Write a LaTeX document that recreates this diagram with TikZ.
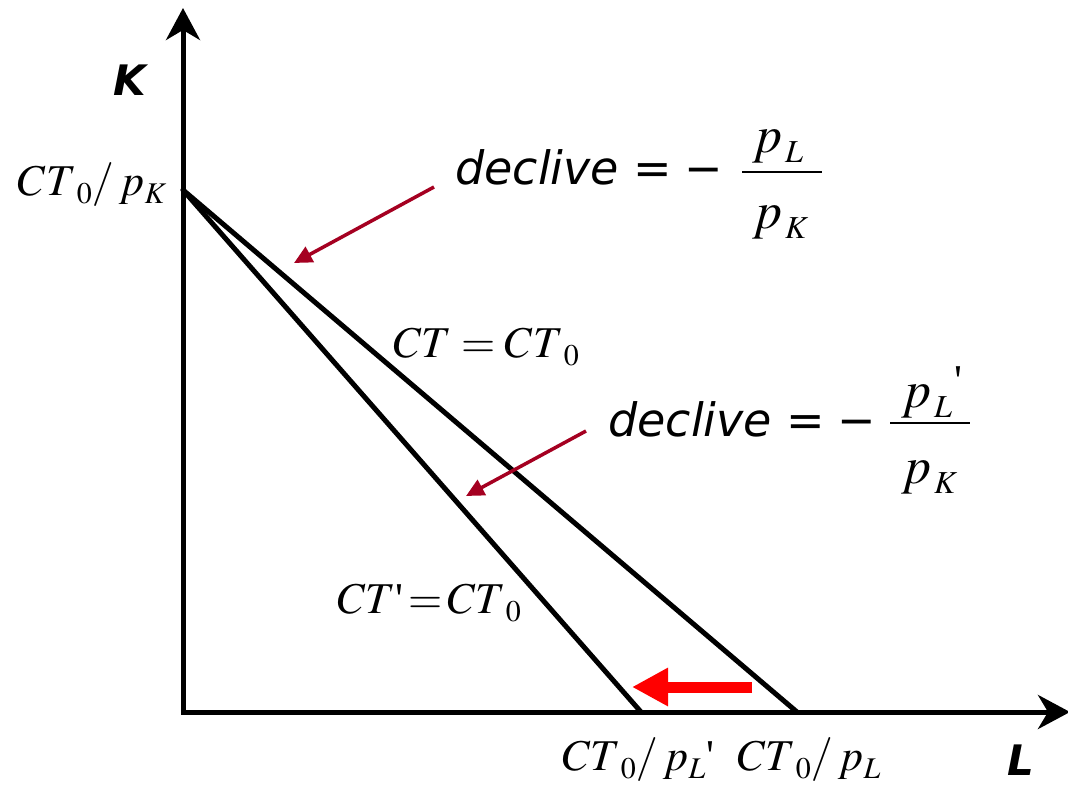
\documentclass[tikz,border=0pt]{standalone}
\usepackage{mathptmx}
\usepackage[no-math]{fontspec}
\setmainfont{Liberation Serif}
\newfontfamily\dv{DejaVu Sans}
\usetikzlibrary{arrows.meta}
\definecolor{ptr}{RGB}{165,0,33}
\newcommand\lsub[1]{\kern0.5pt\raisebox{-8pt}{\fontsize{30}{30}\selectfont$#1$}}
\newcommand\fsub[1]{\kern3pt\raisebox{-10pt}{\fontsize{32}{32}\selectfont$#1$}}
\tikzset{
  axisline/.style={line width=5pt, line join=miter,
    {Stealth[length=32pt,width=34pt,inset=10pt]}-{Stealth[length=32pt,width=34pt,inset=10pt]}},
  budget/.style={line width=5pt, line cap=round},
  pointer/.style={line width=3.5pt, draw=ptr, -{Triangle[length=18pt,width=17pt]}},
  shiftarrow/.style={line width=11pt, draw=red, -{Triangle[length=36pt,width=36pt]}},
  lbl/.style={font=\fontsize{44}{50}\selectfont, inner sep=0pt, anchor=base west},
  frc/.style={font=\fontsize{52}{56}\selectfont, inner sep=0pt, anchor=base west},
  dvl/.style={font=\dv\itshape\fontsize{46}{52}\selectfont, inner sep=0pt, anchor=base west},
  axl/.style={font=\dv\bfseries\itshape\fontsize{42}{48}\selectfont, inner sep=0pt},
  fracbar/.style={line width=2pt}
}
\begin{document}
\begin{tikzpicture}[x=1pt,y=-1pt]
\fill[white] (0,0) rectangle (1068,787);
\useasboundingbox (0,0) rectangle (1068,787);
% coordinates
\coordinate (O) at (183,712);
\coordinate (ytop) at (183,8);
\coordinate (xend) at (1070,712);
\coordinate (A) at (183,190);
\coordinate (B) at (797,712);
\coordinate (Bp) at (641,712);
\coordinate (rs) at (752,687);
\coordinate (re) at (632,687);
\coordinate (p1s) at (434,187);
\coordinate (p1e) at (294,263);
\coordinate (p2s) at (586,431);
\coordinate (p2e) at (466,496);
% axes
\draw[axisline] (ytop) -- (O) -- (xend);
% budget lines
\draw[budget] (A) -- (B);
\draw[budget] (A) -- (Bp);
% shift arrow
\draw[shiftarrow] (rs) -- (re);
% pointers
\draw[pointer] (p1s) -- (p1e);
\draw[pointer] (p2s) -- (p2e);
% axis labels
\node[axl] (K) at (130,80) {K};
\node[axl] (L) at (1021,760) {L};
% intercept labels
\node[lbl] (ik) at (18,195) {$CT\lsub{0}/\,p\lsub{K}$};
\node[lbl] (il1) at (562,770) {$CT\lsub{0}/\,p\lsub{L}$\kern1pt\textquotesingle};
\node[lbl] (il0) at (737,770) {$CT\lsub{0}/\,p\lsub{L}$};
% line labels
\node[lbl] (ct) at (393,357) {$CT=CT\lsub{0}$};
\node[lbl] (ctp) at (337,613) {$CT$\textquotesingle$\,{=}\,CT\lsub{0}$};
% slope 1
\node[dvl] (d1) at (455,184) {declive =\kern12pt−};
\node[frc] (n1) at (752,152) {$p\fsub{L}$};
\node[frc] (m1) at (752,228) {$p\fsub{K}$};
\coordinate (b1l) at (742,172);
\coordinate (b1r) at (822,172);
\draw[fracbar] (b1l) -- (b1r);
% slope 2
\node[dvl] (d2) at (608,436) {declive =\kern12pt−};
\node[frc] (n2) at (901,407) {$p\fsub{L}$\kern3pt\raisebox{12pt}{\fontsize{44}{44}\selectfont\textquotesingle}};
\node[frc] (m2) at (901,483) {$p\fsub{K}$};
\coordinate (b2l) at (890,423);
\coordinate (b2r) at (970,423);
\draw[fracbar] (b2l) -- (b2r);
\end{tikzpicture}
\end{document}
